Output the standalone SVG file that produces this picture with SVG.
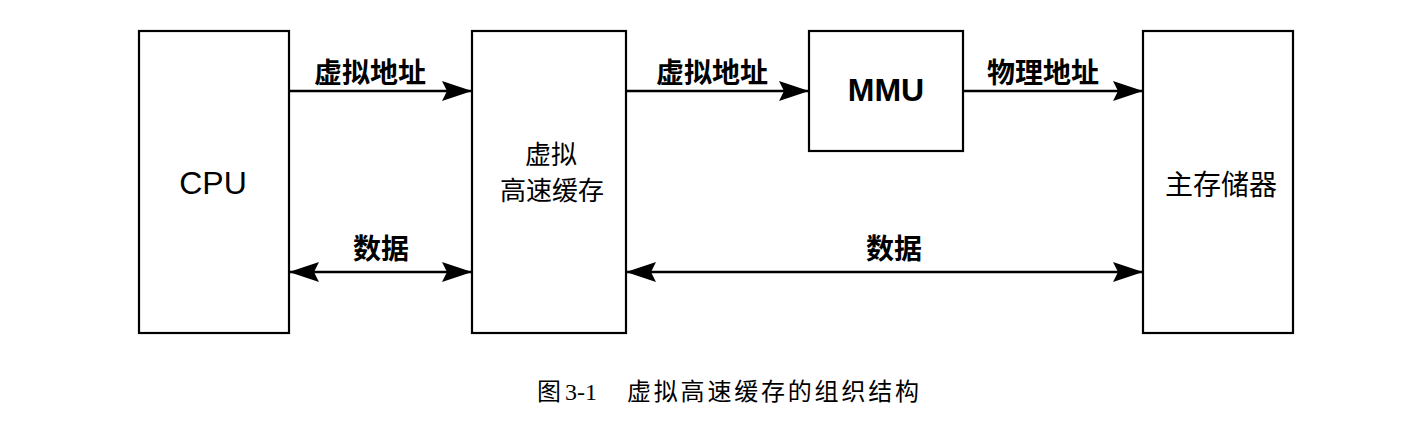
<svg xmlns="http://www.w3.org/2000/svg" width="1428" height="430" viewBox="0 0 1428 430">
<style>
.box{fill:#fff;stroke:#000;stroke-width:2.2}
.conn{stroke:#000;stroke-width:2.4;fill:none}
.lbl{font-family:"Noto Sans CJK SC",sans-serif;font-size:28px;font-weight:bold;text-anchor:middle;dominant-baseline:central;fill:#000}
.cjk{font-family:"Noto Sans CJK SC",sans-serif;font-size:26px;font-weight:normal;text-anchor:middle;dominant-baseline:central;fill:#000}
.lat{font-family:"Liberation Sans",Arial,sans-serif;font-size:32px;text-anchor:middle;dominant-baseline:central;fill:#000}
.cap{font-family:"Liberation Serif","Noto Sans CJK SC",serif;font-size:24px;fill:#000}
</style>
<defs>
<marker id="ah" viewBox="0 0 30 20" refX="30" refY="10" markerWidth="30" markerHeight="20" markerUnits="userSpaceOnUse" orient="auto-start-reverse">
<path d="M0,0 L30,10 L0,20 L5,10 z" fill="#000"/>
</marker>
</defs>
<rect width="1428" height="430" fill="#fff"/>
<g id="cpu">
<rect class="box" x="139" y="31" width="150" height="302"/>
<text class="lat" x="213" y="183">CPU</text>
</g>
<g id="vcache">
<rect class="box" x="472" y="31" width="154" height="302"/>
<text class="cjk" x="551" y="152">虚拟</text>
<text class="cjk" x="552" y="188">高速缓存</text>
</g>
<g id="mmu">
<rect class="box" x="809" y="31" width="154" height="120"/>
<text class="lat" x="886" y="90" font-weight="bold">MMU</text>
</g>
<g id="mainmem">
<rect class="box" x="1143" y="31" width="150" height="302"/>
<text class="cjk" x="1221" y="183" style="font-size:28px">主存储器</text>
</g>
<g id="connectors">
<line class="conn" x1="289" y1="91" x2="472" y2="91" marker-end="url(#ah)"/>
<line class="conn" x1="626" y1="91" x2="809" y2="91" marker-end="url(#ah)"/>
<line class="conn" x1="963" y1="91" x2="1143" y2="91" marker-end="url(#ah)"/>
<line class="conn" x1="289" y1="272" x2="472" y2="272" marker-start="url(#ah)" marker-end="url(#ah)"/>
<line class="conn" x1="626" y1="272" x2="1143" y2="272" marker-start="url(#ah)" marker-end="url(#ah)"/>
<text class="lbl" x="370" y="71">虚拟地址</text>
<text class="lbl" x="712" y="71">虚拟地址</text>
<text class="lbl" x="1043" y="71">物理地址</text>
<text class="lbl" x="381" y="247">数据</text>
<text class="lbl" x="894" y="247">数据</text>
</g>
<g id="caption">
<text class="cap" x="537" y="400">图</text>
<text class="cap" x="565" y="400">3-1</text>
<text class="cap" x="627" y="400" textLength="292" lengthAdjust="spacing">虚拟高速缓存的组织结构</text>
</g>
</svg>
